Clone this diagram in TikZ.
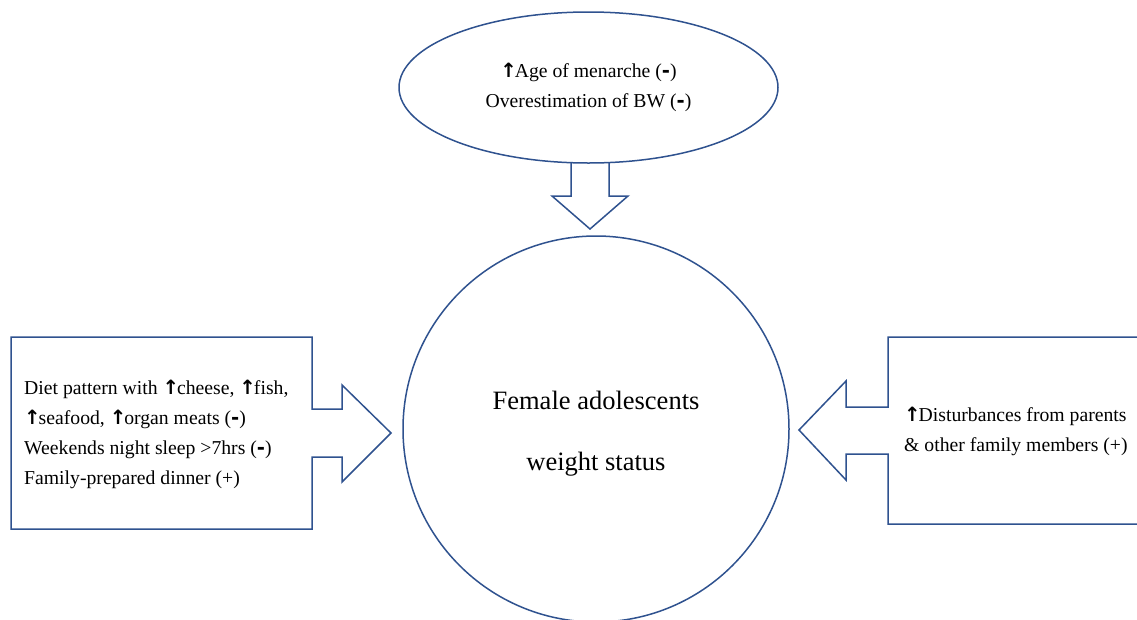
\documentclass[tikz,border=0pt]{standalone}
\usepackage{fontspec}
\setmainfont{Liberation Serif}
\newfontfamily\arrowfont{DejaVu Sans Bold}
\usetikzlibrary{shapes.geometric}
\definecolor{frameblue}{RGB}{47,82,143}
\newcommand{\up}{{\arrowfont ↑}\kern-2pt}
\newcommand{\mn}{{\arrowfont -}}

\begin{document}
\begin{tikzpicture}[
      x=1pt, y=-1pt,
      outline/.style={
          draw=frameblue, line width=1.5pt, fill=white, line join=miter
      },
      txt/.style={
          font=\fontsize{19.7}{30}\selectfont, text=black, inner sep=0pt
      },
      big/.style={
          font=\fontsize{26.5}{61}\selectfont, text=black, align=center
      }
  ]
      \useasboundingbox (0,0) rectangle (1137,619);
      \clip (0,0) rectangle (1137,619);

      % Fleche du haut
      \draw[outline] (571,150) -- (571,196) -- (552,196) -- (590,229) -- (628,196) -- (609,196) -- (609,150) -- cycle;

      % Ellipse
      \node[outline, ellipse, minimum width=379pt, minimum height=151pt, txt, align=center] (menarche) at (588.5,87.5) {
          \up Age of menarche (\mn)\\
          Overestimation of BW (\mn)
      };

      % Cercle central
      \node[outline, circle, minimum size=386pt, inner sep=0pt] (status) at (596,429) {};
      \node[big] (statustext) at (596,434) {
          Female adolescents\\
          weight status
      };

      % Bloc gauche
      \draw[outline] (11,337) -- (312,337) -- (312,409) -- (342,409) -- (342,385) -- (391,433)
          -- (342,482) -- (342,457) -- (312,457) -- (312,529) -- (11,529) -- cycle;
      \node[txt, align=left, anchor=west] (diet) at (24,434) {
          Diet pattern with \up cheese, \up fish,\\
          \up seafood, \up organ meats (\mn)\\
          Weekends night sleep >7hrs (\mn)\\
          Family-prepared dinner (+)
      };

      % Bloc droit
      \draw[outline] (1150,337) -- (888,337) -- (888,407) -- (846,407) -- (846,381) -- (799,430)
          -- (846,480) -- (846,454) -- (888,454) -- (888,524) -- (1150,524) -- cycle;
      \node[txt, align=left, anchor=west] (family) at (904,431) {
          \up Disturbances from parents\\
          \& other family members (+)
      };
  \end{tikzpicture}
\end{document}
